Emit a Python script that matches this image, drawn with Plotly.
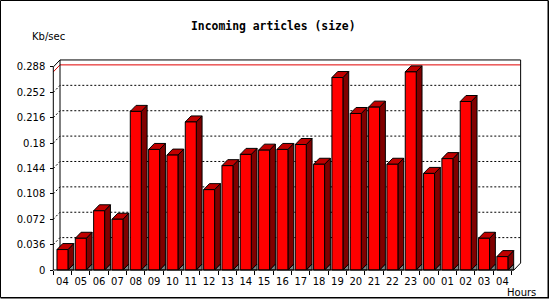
import plotly.graph_objects as go

# ---------------- data ----------------
hours = ["04", "05", "06", "07", "08", "09", "10", "11", "12", "13", "14", "15", "16",
         "17", "18", "19", "20", "21", "22", "23", "00", "01", "02", "03", "04"]
values = [0.029, 0.045, 0.084, 0.072, 0.225, 0.171, 0.163, 0.210, 0.114, 0.148, 0.164,
          0.170, 0.171, 0.178, 0.150, 0.273, 0.222, 0.231, 0.150, 0.281, 0.137, 0.158,
          0.239, 0.045, 0.019]
y_tickvals = [0, 0.036, 0.072, 0.108, 0.144, 0.18, 0.216, 0.252, 0.288]
y_ticktext = ["0", "0.036", "0.072", "0.108", "0.144", "0.18", "0.216", "0.252", "0.288"]
title_text = "Incoming articles (size)"
y_title = "Kb/sec"
x_title = "Hours"

# ---------------- geometry (pixels) ----------------
W, H = 550, 300
ML, MR, MT, MB = 52, 28, 58, 28
PW, PH = W - ML - MR, H - MT - MB
X0_PX, Y0_PX = 53.3, 270.0          # pixel of data origin
PXX = 18.33                         # px per slot
PXY = 705.0                         # px per value unit
xr0 = -(X0_PX - ML) / PXX
xr1 = xr0 + PW / PXX
yr0 = -((MT + PH) - Y0_PX) / PXY
yr1 = yr0 + PH / PXY

n = len(values)
ymax_axis = y_tickvals[-1]
wdx, wdy = 6.7 / PXX, 7.0 / PXY      # wall depth
bdx, bdy = 5.8 / PXX, 6.0 / PXY      # bar depth
wall_right = n + wdx + 0.13
bw0, bw1 = 0.2, 0.8

def px(xp):
    return (xp - ML) / PW

def py(yp):
    return (MT + PH - yp) / PH

fig = go.Figure()

def poly_trace(polys, fill, line_color="black", dash=None, width=1, closed=True):
    xs, ys = [], []
    for p in polys:
        for (a, b) in p:
            xs.append(a); ys.append(b)
        if closed:
            xs.append(p[0][0]); ys.append(p[0][1])
        xs.append(None); ys.append(None)
    fig.add_trace(go.Scatter(
        x=xs, y=ys, mode="lines",
        fill="toself" if fill else None, fillcolor=fill,
        line=dict(color=line_color, width=width, dash=dash),
        hoverinfo="skip", showlegend=False, connectgaps=False))

# dotted gridlines on back wall + short diagonals
grid = []
for v in y_tickvals[1:-1]:
    grid.append([(0, v), (wdx, v + wdy), (wall_right, v + wdy)])
poly_trace(grid, None, dash="2px,2px", closed=False)

# max line (red)
vmax = max(values)
poly_trace([[(0, vmax), (wdx, vmax + wdy), (wall_right, vmax + wdy)]], None,
           line_color="#e00000", closed=False)

# frame of the box
frame = [
    [(0, ymax_axis), (wdx, ymax_axis + wdy), (wall_right, ymax_axis + wdy),
     (wall_right, wdy), (wall_right - wdx, 0)],
    [(wdx, wdy), (wdx, ymax_axis + wdy)],
]
poly_trace(frame, None, closed=False)

# bars
fronts, sides, tops, shadows = [], [], [], []
for i, v in enumerate(values):
    a, b = i + bw0, i + bw1
    fronts.append([(a, 0), (a, v), (b, v), (b, 0)])
    sides.append([(b, 0), (b, v), (b + bdx, v + bdy), (b + bdx, bdy)])
    tops.append([(a, v), (a + bdx, v + bdy), (b + bdx, v + bdy), (b, v)])
    shadows.append([(b, 0), (b + bdx, bdy), (b + bdx, 0)])
poly_trace(shadows, "#808080")
poly_trace(sides, "#800000")
poly_trace(tops, "#c00000")
poly_trace(fronts, "#ff0000")

# front axis, baseline, floor-left diagonal
poly_trace([[(0, 0), (0, ymax_axis)], [(0, 0), (wall_right - wdx, 0)]], None, closed=False)

# hidden helper trace on x2 so the tick axis renders
fig.add_trace(go.Scatter(x=[None], y=[None], xaxis="x2", showlegend=False, hoverinfo="skip"))

xpos = (MT + PH - Y0_PX) / PH
ypos = (X0_PX - ML) / PW
font = dict(family="DejaVu Sans", size=10, color="black")

fig.update_layout(
    width=W, height=H,
    margin=dict(l=ML, r=MR, t=MT, b=MB, pad=0),
    paper_bgcolor="white", plot_bgcolor="white",
    showlegend=False,
    xaxis=dict(range=[xr0, xr1], anchor="free", position=xpos,
               tickmode="array", tickvals=[i + 0.5 for i in range(n)], ticktext=hours,
               ticks="", showgrid=False, zeroline=False, showline=False,
               tickfont=font, ticklabelstandoff=4, fixedrange=True),
    xaxis2=dict(range=[xr0, xr1], overlaying="x", anchor="free", position=xpos,
                side="bottom", tickmode="array", tickvals=list(range(n + 1)),
                showticklabels=False, ticks="outside", ticklen=4, tickwidth=1,
                tickcolor="black", showgrid=False, zeroline=False, showline=False,
                fixedrange=True),
    yaxis=dict(range=[yr0, yr1], anchor="free", position=ypos,
               tickmode="array", tickvals=y_tickvals, ticktext=y_ticktext,
               ticks="outside", ticklen=3, tickwidth=1, tickcolor="black",
               showgrid=False, zeroline=False, showline=False,
               tickfont=font, ticklabelstandoff=3, fixedrange=True),
)

fig.add_annotation(text=title_text, x=px(273), y=py(26), xref="paper", yref="paper",
                   showarrow=False, xanchor="center", yanchor="middle",
                   font=dict(family="DejaVu Sans Mono", size=11.4, color="black"))
fig.layout.annotations[0].text = "<b>" + title_text + "</b>"
fig.add_annotation(text=y_title, x=px(30), y=py(37), xref="paper", yref="paper",
                   showarrow=False, xanchor="left", yanchor="middle", font=font)
fig.add_annotation(text=x_title, x=px(505), y=py(292), xref="paper", yref="paper",
                   showarrow=False, xanchor="left", yanchor="middle", font=font)

# outer border
fig.add_shape(type="rect", xref="paper", yref="paper",
              x0=px(0.5), y0=py(0.5), x1=px(548), y1=py(297.5),
              line=dict(color="black", width=1))
fig.add_shape(type="line", xref="paper", yref="paper",
              x0=px(548.5), y0=py(0.5), x1=px(548.5), y1=py(298),
              line=dict(color="black", width=1))
fig.add_shape(type="line", xref="paper", yref="paper",
              x0=px(0.5), y0=py(298), x1=px(549), y1=py(298),
              line=dict(color="black", width=1))

fig.write_html("out.html")
